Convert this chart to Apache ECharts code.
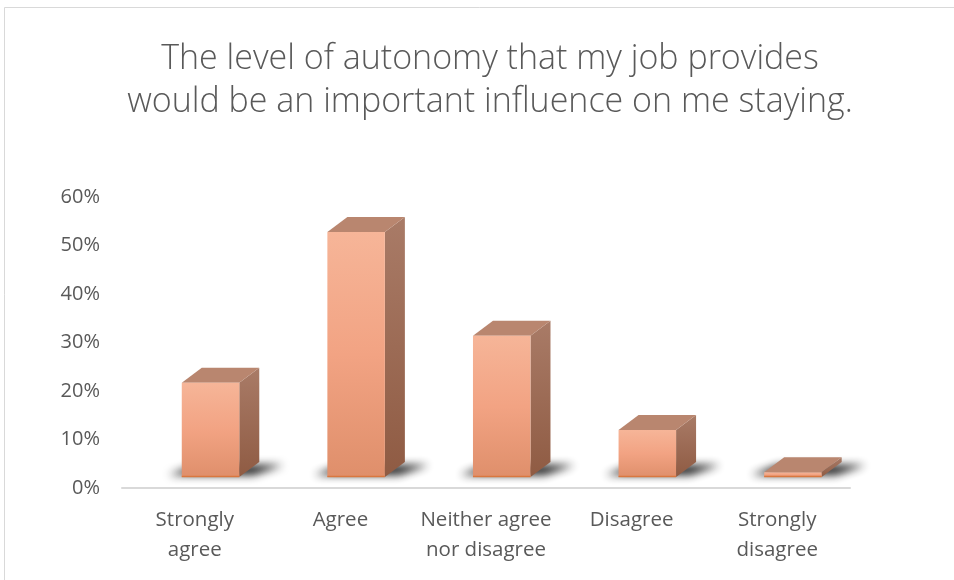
<!DOCTYPE html>
<html>
<head>
<meta charset="utf-8">
<script src="https://cdn.jsdelivr.net/npm/echarts@6/dist/echarts.min.js"></script>
<style>
  html, body { margin: 0; padding: 0; background: #fff; }
  #chart { width: 954px; height: 580px; }
</style>
</head>
<body>
<div id="chart"></div>
<script>
// Survey responses
const titleLines = ['The level of autonomy that my job provides', 'would be an important influence on me staying.'];
const categories = ['Strongly\nagree', 'Agree', 'Neither agree\nnor disagree', 'Disagree', 'Strongly\ndisagree'];
const shares = [0.20, 0.52, 0.30, 0.10, 0.01];
const axisMin = 0;
const axisMax = 0.6;
const axisStep = 0.1;

const FONT = '"Open Sans", sans-serif';
const TEXT = '#595959';

// Extruded column: front face, side face, top face and a soft floor shadow
function renderColumn(params, api) {
  const idx = api.value(0);
  const val = api.value(1);
  const base = api.coord([idx, 0]);
  const peak = api.coord([idx, val]);
  const band = api.size([1, 0])[0];
  const w = band * 0.395;
  const cx = base[0] + band * 0.108;
  const y0 = base[1] - 11;
  const h = Math.max((base[1] - peak[1]) * 0.971, 1);
  const y1 = y0 - h;
  const x0 = cx - w / 2, x1 = cx + w / 2;
  const dx = 20, dy = -15;
  const far = 3000;

  return {
    type: 'group',
    children: [
      {
        // blurred floor shadow: shape is drawn off-canvas, only its shadow lands here
        type: 'polygon',
        shape: { points: [
          [x0 - 13 - far, y0 - 2], [x1 + 14 - far, y0 - 2],
          [x1 + dx + 24 - far, y0 + dy + 3], [x0 + dx - 6 - far, y0 + dy + 3]
        ] },
        style: {
          fill: 'rgba(0,0,0,1)',
          shadowBlur: 9,
          shadowColor: 'rgba(20,20,20,0.95)',
          shadowOffsetX: far,
          shadowOffsetY: 0
        },
        silent: true
      },
      {
        type: 'polygon',
        shape: { points: [[x1, y1], [x1 + dx, y1 + dy], [x1 + dx, y0 + dy], [x1, y0]] },
        style: {
          fill: new echarts.graphic.LinearGradient(0, 0, 0, 1, [
            { offset: 0, color: '#a97b67' },
            { offset: 1, color: '#8f5b43' }
          ])
        }
      },
      {
        type: 'polygon',
        shape: { points: [[x0, y1], [x0 + dx, y1 + dy], [x1 + dx, y1 + dy], [x1, y1]] },
        style: { fill: '#b9866f' }
      },
      {
        type: 'rect',
        shape: { x: x0, y: y1, width: w, height: h },
        style: {
          fill: new echarts.graphic.LinearGradient(0, 0, 0, 1, [
            { offset: 0, color: '#f6b598' },
            { offset: 0.5, color: '#f2a383' },
            { offset: 1, color: '#df8f6b' }
          ])
        }
      },
      {
        type: 'line',
        shape: { x1: x0, y1: y0 - 0.5, x2: x1, y2: y0 - 0.5 },
        style: { stroke: '#d9773f', lineWidth: 1.5 }
      }
    ]
  };
}

const chart = echarts.init(document.getElementById('chart'), null, { renderer: 'canvas' });

chart.setOption({
  backgroundColor: '#ffffff',
  animation: false,
  title: {
    text: titleLines.join('\n'),
    left: 485,
    textAlign: 'center',
    top: 33,
    textStyle: {
      fontFamily: FONT,
      fontWeight: 300,
      fontSize: 34,
      lineHeight: 43,
      color: TEXT
    }
  },
  graphic: [
    {
      type: 'rect',
      shape: { x: 4.5, y: 7.5, width: 1000, height: 700 },
      style: { fill: 'none', stroke: '#d9d9d9', lineWidth: 1 },
      silent: true,
      z: -10
    }
  ],
  grid: { left: 122, right: 104, top: 197, bottom: 92 },
  xAxis: {
    type: 'category',
    data: categories,
    axisLine: { show: true, lineStyle: { color: '#d9d9d9', width: 2 } },
    axisTick: { show: false },
    axisLabel: {
      color: TEXT,
      fontFamily: FONT,
      fontSize: 20.5,
      lineHeight: 30,
      margin: 17,
      interval: 0
    }
  },
  yAxis: {
    type: 'value',
    min: axisMin,
    max: axisMax,
    interval: axisStep,
    axisLine: { show: false },
    axisTick: { show: false },
    splitLine: { show: false },
    axisLabel: {
      color: TEXT,
      fontFamily: FONT,
      fontSize: 20,
      margin: 22,
      formatter: v => Math.round(v * 100) + '%'
    }
  },
  series: [
    {
      type: 'custom',
      renderItem: renderColumn,
      data: shares.map((v, i) => [i, v]),
      encode: { x: 0, y: 1 },
      clip: false
    }
  ]
});
</script>
</body>
</html>
